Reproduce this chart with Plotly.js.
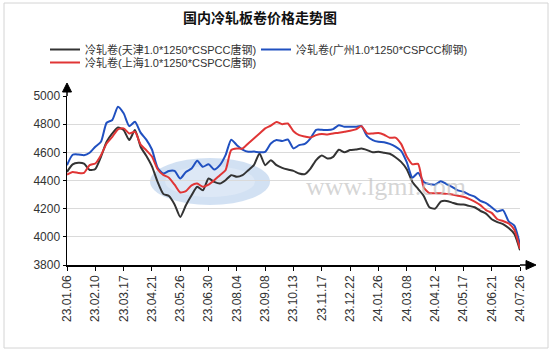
<!DOCTYPE html>
<html>
<head>
<meta charset="utf-8">
<script src="https://cdn.plot.ly/plotly-3.0.1.min.js"></script>
<style>html,body{margin:0;padding:0;background:#fff;}#chart{width:554px;height:357px;}</style>
</head>
<body>
<div id="chart"></div>
<script>
const startDate = '2023-01-06';
const tickLabels = ['23.01.06','23.02.10','23.03.17','23.04.21','23.05.26','23.06.30','23.08.04','23.09.08','23.10.13','23.11.17','23.12.22','24.01.26','24.03.08','24.04.12','24.05.17','24.06.21','24.07.26'];
const yTicks = [3800,4000,4200,4400,4600,4800,5000];

const seriesNames = ['冷轧卷(天津1.0*1250*CSPCC唐钢)','冷轧卷(广州1.0*1250*CSPCC柳钢)','冷轧卷(上海1.0*1250*CSPCC唐钢)'];
const seriesColors = ['#333333','#2050c0','#e03535'];
const seriesLegends = ['legend','legend2','legend3'];

const tianjin = [4461,4515,4526,4520,4475,4482,4568,4675,4734,4777,4758,4687,4758,4640,4575,4500,4390,4305,4290,4230,
4141,4224,4295,4355,4331,4414,4390,4378,4402,4438,4426,4438,4473,4509,4592,4509,4544,4509,4490,4478,
4468,4450,4445,4485,4545,4578,4556,4568,4618,4600,4616,4620,4627,4616,4600,4604,4597,4590,4565,4532,
4480,4390,4340,4290,4210,4200,4250,4255,4243,4231,4229,4220,4210,4185,4165,4125,4105,4090,4062,4020,3905];
const guangzhou = [4509,4583,4585,4580,4597,4640,4675,4810,4830,4924,4877,4786,4817,4740,4690,4620,4490,4450,4468,4468,
4414,4461,4485,4540,4497,4516,4478,4509,4580,4690,4651,4620,4604,4606,4600,4604,4663,4687,4680,4691,
4628,4651,4660,4699,4760,4760,4758,4765,4792,4782,4782,4782,4786,4715,4687,4675,4672,4660,4640,4610,
4530,4420,4455,4390,4375,4370,4395,4375,4355,4330,4320,4300,4285,4255,4240,4210,4180,4190,4110,4080,3945];
const shanghai = [4442,4461,4454,4454,4509,4521,4580,4663,4710,4763,4770,4734,4746,4655,4615,4570,4480,4440,4420,4370,
4315,4325,4366,4378,4355,4371,4402,4438,4473,4616,4627,4627,4663,4699,4734,4770,4790,4815,4800,4805,
4750,4722,4712,4705,4722,4730,4727,4734,4739,4746,4753,4763,4786,4734,4734,4737,4725,4703,4705,4660,
4570,4515,4518,4350,4310,4310,4310,4305,4300,4292,4285,4270,4250,4225,4190,4170,4125,4112,4095,4050,3915];

// weekly dates (categories)
const dates = [];
{
  const d0 = new Date(startDate + 'T00:00:00Z');
  for (let i = 0; i < tianjin.length; i++) {
    const d = new Date(d0.getTime() + i * 7 * 86400000);
    dates.push(d.toISOString().slice(0,10));
  }
}
// labels every 5 weeks
const tickPos = tickLabels.map((_, k) => dates[k * 5]);

const allSeries = [tianjin, guangzhou, shanghai];
const traces = allSeries.map((ys, k) => ({
  x: dates, y: ys, type: 'scatter', mode: 'lines', name: seriesNames[k], legend: seriesLegends[k],
  line: {color: seriesColors[k], width: 2, shape: 'spline', smoothing: 0.6}
}));

const L = 67, R = 34, T = 96, B = 92, W = 554, H = 357;
const pw = W - L - R, ph = H - T - B;
const px = v => (v - L) / pw;
const py = v => (H - B - v) / ph;

const shapes = [
  {type:'rect', xref:'paper', yref:'paper', x0:px(4), x1:px(548), y0:py(348), y1:py(3), line:{color:'#d4d4d4', width:1}, layer:'below'},
  {type:'circle', xref:'paper', yref:'paper', x0:px(150), x1:px(270), y0:py(205), y1:py(158), fillcolor:'rgba(165,195,232,0.5)', line:{width:0}, layer:'below'},
  {type:'circle', xref:'paper', yref:'paper', x0:px(165), x1:px(255), y0:py(197), y1:py(166), fillcolor:'rgba(228,236,248,0.6)', line:{width:0}, layer:'below'},
  {type:'line', xref:'paper', yref:'paper', x0:1, x1:px(527), y0:0, y1:0, line:{color:'#000', width:1.5}},
  {type:'line', xref:'paper', yref:'paper', x0:0, x1:0, y0:1, y1:py(91), line:{color:'#000', width:1.5}},
  {type:'path', xref:'paper', yref:'paper', path:`M ${px(526)} ${py(260.5)} L ${px(536)} ${py(265)} L ${px(526)} ${py(269.5)} Z`, fillcolor:'#000', line:{color:'#000', width:1}},
  {type:'path', xref:'paper', yref:'paper', path:`M ${px(62.5)} ${py(92)} L ${px(67)} ${py(83)} L ${px(71.5)} ${py(92)} Z`, fillcolor:'#000', line:{color:'#000', width:1}}
];

const legendFont = {size: 11, color: '#333', family: 'Liberation Sans, Noto Sans CJK SC, sans-serif'};
const mkLegend = (x, y) => ({orientation: 'h', xref: 'container', yref: 'container', x: x / W, y: 1 - y / H, xanchor: 'left', yanchor: 'top',
  font: legendFont, bgcolor: 'rgba(0,0,0,0)', itemclick: false});

const layout = {
  width: W, height: H,
  margin: {l: L, r: R, t: T, b: B, pad: 0},
  paper_bgcolor: '#ffffff', plot_bgcolor: 'rgba(0,0,0,0)',
  font: {family: 'Liberation Sans, Arial, Noto Sans CJK SC, sans-serif', size: 12, color: '#333'},
  title: {text: '<b>国内冷轧板卷价格走势图</b>', x: 260 / W, xref: 'container', xanchor: 'center', y: 1 - 18 / H, yref: 'container', yanchor: 'middle',
          font: {family: 'Noto Sans CJK SC, sans-serif', size: 14, color: '#111'}},
  showlegend: true,
  legend: mkLegend(45, 35),
  legend2: mkLegend(256, 35),
  legend3: mkLegend(45, 48),
  xaxis: {type: 'date', range: [dates[0], dates[dates.length - 1]], tickvals: tickPos, ticktext: tickLabels, tickangle: -90,
          ticks: 'outside', ticklen: 4, tickcolor: '#000', showline: true, linecolor: '#000', linewidth: 1.5,
          showgrid: false, zeroline: false, tickfont: {size: 12, color: '#333'}, fixedrange: true},
  yaxis: {range: [3800, 5000], tickvals: yTicks, ticktext: yTicks.map(String), ticks: 'outside', ticklen: 3, tickcolor: '#000',
          showline: true, linecolor: '#000', linewidth: 1.5, showgrid: true, gridcolor: '#dadada', gridwidth: 1,
          zeroline: false, tickfont: {size: 12, color: '#333'}, fixedrange: true},
  shapes: shapes,
  annotations: [
    {text: 'www.lgmi.com', xref: 'paper', yref: 'paper', x: px(386), y: py(186), xanchor: 'center', yanchor: 'middle', showarrow: false,
     font: {family: 'Liberation Serif, serif', size: 26, color: 'rgba(195,195,195,0.7)'}}
  ]
};

Plotly.newPlot('chart', traces, layout, {displayModeBar: false, staticPlot: true});
</script>
</body>
</html>
